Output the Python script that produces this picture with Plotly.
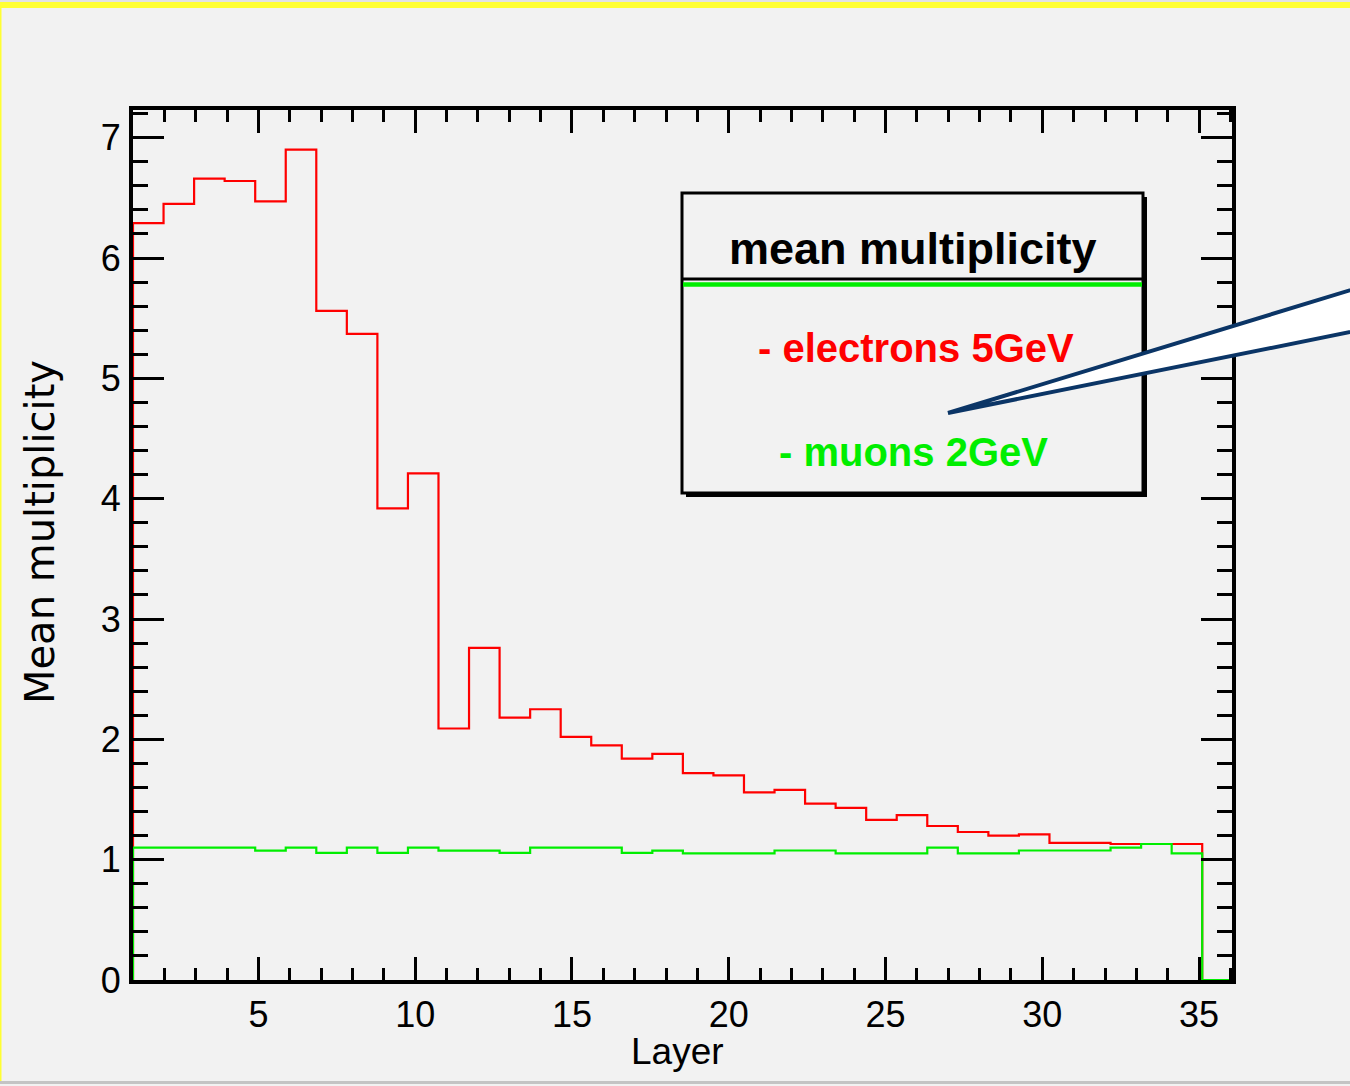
import numpy as np
import plotly.graph_objects as go

# ---------------- data ----------------
layers = list(range(1, 36))
electrons_5GeV = [6.29, 6.45, 6.66, 6.64, 6.47, 6.90, 5.56, 5.37, 3.92, 4.21,
                  2.09, 2.76, 2.18, 2.25, 2.02, 1.95, 1.84, 1.88, 1.72, 1.70,
                  1.56, 1.58, 1.465, 1.43, 1.33, 1.37, 1.28, 1.23, 1.20, 1.21,
                  1.14, 1.14, 1.13, 1.13, 1.13]
muons_2GeV = [1.10, 1.10, 1.10, 1.10, 1.075, 1.10, 1.056, 1.10, 1.056, 1.10,
              1.075, 1.075, 1.056, 1.10, 1.10, 1.10, 1.056, 1.075, 1.053, 1.053,
              1.053, 1.076, 1.076, 1.053, 1.053, 1.053, 1.10, 1.053, 1.053, 1.076,
              1.076, 1.076, 1.10, 1.13, 1.053]
bin_lo, bin_hi = 1.0, 35.1
x_range = [1.0, 36.05]
y_range = [0.0, 7.23]
x_ticks = [5, 10, 15, 20, 25, 30, 35]
y_ticks = [0, 1, 2, 3, 4, 5, 6, 7]
legend_title = "mean multiplicity"
series_names = ["electrons 5GeV", "muons 2GeV"]
series_colors = ["#ff0000", "#00ee00"]

edges = np.linspace(bin_lo, bin_hi, len(layers) + 1)

# ---------------- layout geometry ----------------
W, H = 1350, 1086
ML, MR, MT, MB = 133, 118, 110, 106
PW, PH = W - ML - MR, H - MT - MB
FONT = "Liberation Sans Narrow, Arial Narrow, Liberation Sans, Arial, sans-serif"


def px(p):
    return (p - ML) / PW


def py(p):
    return (H - MB - p) / PH


def step_trace(vals, color):
    xs = [edges[0]] + list(edges[:-1]) + [edges[-1], edges[-1], x_range[1]]
    ys = [0] + list(vals) + [vals[-1], 0, 0]
    return go.Scatter(x=xs, y=ys, mode="lines", line=dict(color=color, width=2.2, shape="hv"),
                      hoverinfo="skip", showlegend=False, cliponaxis=False)


fig = go.Figure()
fig.add_trace(step_trace(electrons_5GeV, series_colors[0]))
fig.add_trace(step_trace(muons_2GeV, series_colors[1]))

tickfont = dict(family=FONT, size=36, color="black")

fig.update_xaxes(range=x_range, tickvals=x_ticks, ticks="inside", ticklen=23, tickwidth=3,
                 tickcolor="black", showline=True, linewidth=4, linecolor="black",
                 mirror="allticks", showgrid=False, zeroline=False, tickfont=tickfont,
                 ticklabelstandoff=0,
                 minor=dict(ticks="inside", ticklen=12, tickwidth=3, tickcolor="black",
                            dtick=1, tick0=0, showgrid=False))
fig.update_yaxes(range=y_range, tickvals=y_ticks, ticks="inside", ticklen=31, tickwidth=3,
                 tickcolor="black", showline=True, linewidth=4, linecolor="black",
                 mirror="allticks", showgrid=False, zeroline=False, tickfont=tickfont,
                 ticklabelstandoff=1,
                 minor=dict(ticks="inside", ticklen=15, tickwidth=3, tickcolor="black",
                            dtick=0.2, tick0=0, showgrid=False))

shapes = []
# page frame
shapes.append(dict(type="rect", xref="paper", yref="paper", x0=px(-5), x1=px(1360), y0=py(0), y1=py(2),
                   fillcolor="#e2e2e2", line=dict(width=0), layer="below"))
shapes.append(dict(type="rect", xref="paper", yref="paper", x0=px(-5), x1=px(1360), y0=py(2), y1=py(8),
                   fillcolor="#ffff33", line=dict(width=0), layer="below"))
shapes.append(dict(type="rect", xref="paper", yref="paper", x0=px(-5), x1=px(1.5), y0=py(8), y1=py(1081),
                   fillcolor="#ffff33", line=dict(width=0), layer="below"))
shapes.append(dict(type="rect", xref="paper", yref="paper", x0=px(-5), x1=px(1360), y0=py(1081), y1=py(1084),
                   fillcolor="#c4c4c4", line=dict(width=0), layer="below"))
# legend box with shadow
shapes.append(dict(type="rect", xref="paper", yref="paper", x0=px(686), x1=px(1147), y0=py(497), y1=py(197),
                   fillcolor="black", line=dict(width=0)))
shapes.append(dict(type="rect", xref="paper", yref="paper", x0=px(682), x1=px(1143), y0=py(493), y1=py(193),
                   fillcolor="#f2f2f2", line=dict(color="black", width=3)))
shapes.append(dict(type="line", xref="paper", yref="paper", x0=px(683), x1=px(1142), y0=py(279), y1=py(279),
                   line=dict(color="black", width=3)))
shapes.append(dict(type="line", xref="paper", yref="paper", x0=px(683), x1=px(1142), y0=py(284.5), y1=py(284.5),
                   line=dict(color="#00ee00", width=4.5)))
# callout pointer
path = "M {},{} L {},{} L {},{} Z".format(px(948), py(413), px(1400), py(275), px(1400), py(322))
shapes.append(dict(type="path", xref="paper", yref="paper", path=path, fillcolor="white",
                   line=dict(color="#0b3566", width=4)))

annotations = [
    dict(text="<b>" + legend_title + "</b>", x=px(913), y=py(248), xref="paper", yref="paper",
         showarrow=False, xanchor="center", yanchor="middle",
         font=dict(family=FONT, size=45, color="black")),
    dict(text="<b>- " + series_names[0] + "</b>", x=px(916), y=py(348), xref="paper", yref="paper",
         showarrow=False, xanchor="center", yanchor="middle",
         font=dict(family=FONT, size=40, color=series_colors[0])),
    dict(text="<b>- " + series_names[1] + "</b>", x=px(913), y=py(452), xref="paper", yref="paper",
         showarrow=False, xanchor="center", yanchor="middle",
         font=dict(family=FONT, size=40, color=series_colors[1])),
    dict(text="Layer", x=px(677), y=py(1051), xref="paper", yref="paper", showarrow=False,
         xanchor="center", yanchor="middle",
         font=dict(family=FONT, size=37, color="black")),
    dict(text="Mean multiplicity", x=px(40), y=py(532), xref="paper", yref="paper", showarrow=False,
         xanchor="center", yanchor="middle", textangle=-90,
         font=dict(family="DejaVu Sans, sans-serif", size=40, color="black")),
]

fig.update_layout(width=W, height=H, margin=dict(l=ML, r=MR, t=MT, b=MB),
                  paper_bgcolor="#f2f2f2", plot_bgcolor="#f2f2f2",
                  shapes=shapes, annotations=annotations, showlegend=False)

fig.write_html("out.html")
